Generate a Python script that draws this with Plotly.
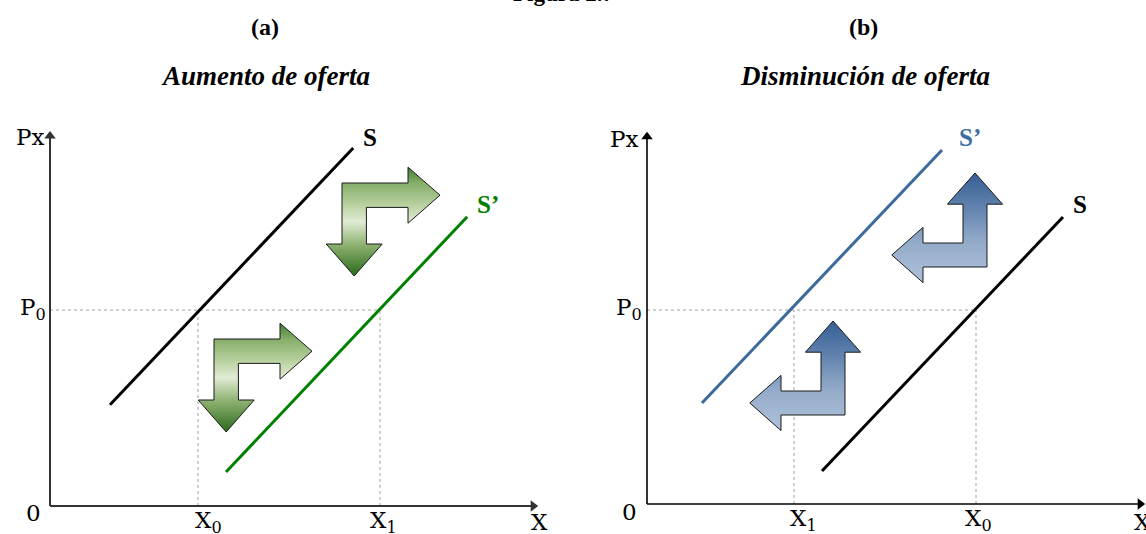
import plotly.graph_objects as go

# ---------------- data (units: 1 unit = 40 px, origin at axis corner) -------------
# panel (a): aumento de oferta
a_axis_tip = [12.08, 9.25]          # x-axis end, y-axis end
a_X0, a_X1, a_P0 = 3.7, 8.25, 4.9
a_S_x = [1.5, 7.58]
a_S_y = [2.53, 8.95]
a_S2_x = [4.4, 10.43]
a_S2_y = [0.85, 7.23]
a_arrow_x = [7.3, 4.1]              # outer corner of bent arrows
a_arrow_y = [8.075, 4.175]

# panel (b): disminución de oferta
b_axis_tip = [12.33, 9.18]
b_X1, b_X0, b_P0 = 3.675, 8.225, 4.85
b_S2_x = [1.375, 7.375]
b_S2_y = [2.525, 8.85]
b_S_x = [4.375, 10.4]
b_S_y = [0.825, 7.175]
b_arrow_x = [8.5, 4.95]
b_arrow_y = [5.925, 2.225]

SERIF = "Liberation Serif"
LAB = "DejaVu Serif"

fig = go.Figure()


def bent_arrow(ox, oy, hx, vy, Lh, Lv, hl, w, hh):
    uv = [(0, 0), (Lh - hl, 0), (Lh - hl, w / 2 - hh), (Lh, w / 2),
          (Lh - hl, w / 2 + hh), (Lh - hl, w), (w, w), (w, Lv - hl),
          (w / 2 + hh, Lv - hl), (w / 2, Lv), (w / 2 - hh, Lv - hl),
          (0, Lv - hl), (0, 0)]
    xs = [ox + hx * u for u, v in uv]
    ys = [oy + vy * v for u, v in uv]
    return xs, ys


green_scale = [[0, '#2a6a1c'], [0.28, '#8cb06e'], [0.5, '#e1ebd5'],
               [0.64, '#bcd3a3'], [0.86, '#83ad67'], [1, '#3f7f30']]
blue_scale = [[0, '#afc1da'], [0.37, '#93abc9'], [0.72, '#5c7eab'], [1, '#355f94']]

# ---------- panel (a) ----------
xa, ya = 'x', 'y'
fig.add_trace(go.Scatter(x=[0, a_X1], y=[a_P0, a_P0], mode='lines',
                         line=dict(color='#a0a0a0', width=1, dash='dot'), xaxis=xa, yaxis=ya))
for xv in (a_X0, a_X1):
    fig.add_trace(go.Scatter(x=[xv, xv], y=[0, a_P0], mode='lines',
                             line=dict(color='#a0a0a0', width=1, dash='dot'), xaxis=xa, yaxis=ya))
fig.add_trace(go.Scatter(x=a_S_x, y=a_S_y, mode='lines', line=dict(color='black', width=3),
                         xaxis=xa, yaxis=ya))
fig.add_trace(go.Scatter(x=a_S2_x, y=a_S2_y, mode='lines', line=dict(color='#008000', width=3),
                         xaxis=xa, yaxis=ya))
for ox, oy in zip(a_arrow_x, a_arrow_y):
    xs, ys = bent_arrow(ox, oy, 1, -1, 2.45, 2.325, 0.8, 0.61, 0.7)
    fig.add_trace(go.Scatter(x=xs, y=ys, mode='lines', fill='toself',
                             fillgradient=dict(type='vertical', colorscale=green_scale),
                             line=dict(color='#1a1a1a', width=1), xaxis=xa, yaxis=ya))

# ---------- panel (b) ----------
xb, yb = 'x2', 'y2'
fig.add_trace(go.Scatter(x=[0, b_X0], y=[b_P0, b_P0], mode='lines',
                         line=dict(color='#a0a0a0', width=1, dash='dot'), xaxis=xb, yaxis=yb))
for xv in (b_X1, b_X0):
    fig.add_trace(go.Scatter(x=[xv, xv], y=[0, b_P0], mode='lines',
                             line=dict(color='#a0a0a0', width=1, dash='dot'), xaxis=xb, yaxis=yb))
fig.add_trace(go.Scatter(x=b_S2_x, y=b_S2_y, mode='lines', line=dict(color='#3b6a9b', width=3),
                         xaxis=xb, yaxis=yb))
fig.add_trace(go.Scatter(x=b_S_x, y=b_S_y, mode='lines', line=dict(color='black', width=3),
                         xaxis=xb, yaxis=yb))
for ox, oy in zip(b_arrow_x, b_arrow_y):
    xs, ys = bent_arrow(ox, oy, -1, 1, 2.38, 2.35, 0.78, 0.6, 0.69)
    fig.add_trace(go.Scatter(x=xs, y=ys, mode='lines', fill='toself',
                             fillgradient=dict(type='vertical', colorscale=blue_scale),
                             line=dict(color='#1a1a1a', width=1), xaxis=xb, yaxis=yb))

# axes drawn as lines ending in arrow markers
for (xr, yr, tip, col, wd) in (('x', 'y', a_axis_tip, '#333333', 2), ('x2', 'y2', b_axis_tip, '#000000', 1.6)):
    fig.add_trace(go.Scatter(x=[0, tip[0]], y=[0, 0], mode='lines', line=dict(color=col, width=wd),
                             xaxis=xr, yaxis=yr))
    fig.add_trace(go.Scatter(x=[0, 0], y=[0, tip[1]], mode='lines', line=dict(color=col, width=wd),
                             xaxis=xr, yaxis=yr))
    fig.add_trace(go.Scatter(x=[tip[0], 0], y=[0, tip[1]], mode='markers',
                             marker=dict(symbol=['triangle-right', 'triangle-up'], size=10,
                                         color=col, line=dict(width=0)),
                             xaxis=xr, yaxis=yr))

ann = []


def lab(text, x, y, xr, yr, size=23, color='black', family=LAB, xanchor='center', yanchor='middle'):
    ann.append(dict(text=text, x=x, y=y, xref=xr, yref=yr, showarrow=False,
                    font=dict(family=family, size=size, color=color),
                    xanchor=xanchor, yanchor=yanchor))


# panel (a) labels
lab('Px', -0.1, 9.225, 'x', 'y', xanchor='right')
lab('P<sub>0</sub>', -0.05, 4.93, 'x', 'y', xanchor='right')
lab('0', -0.425, -0.175, 'x', 'y')
lab('X<sub>0</sub>', 3.95, -0.4, 'x', 'y')
lab('X<sub>1</sub>', 8.33, -0.4, 'x', 'y')
lab('X', 12.225, -0.4, 'x', 'y')
lab('<b>S</b>', 8.0, 9.225, 'x', 'y', size=25, family=SERIF)
lab('<b>S’</b>', 10.95, 7.55, 'x', 'y', size=25, family=SERIF, color='#008000')

# panel (b) labels
lab('Px', -0.175, 9.125, 'x2', 'y2', xanchor='right')
lab('P<sub>0</sub>', -0.075, 4.88, 'x2', 'y2', xanchor='right')
lab('0', -0.45, -0.2, 'x2', 'y2')
lab('X<sub>1</sub>', 3.9, -0.4, 'x2', 'y2')
lab('X<sub>0</sub>', 8.275, -0.4, 'x2', 'y2')
lab('X', 12.375, -0.45, 'x2', 'y2')
lab('<b>S’</b>', 8.075, 9.175, 'x2', 'y2', size=25, family=SERIF, color='#3d6fa3')
lab('<b>S</b>', 10.825, 7.5, 'x2', 'y2', size=25, family=SERIF)

W, H = 1146, 534


def ptxt(text, px, py, size, italic=False):
    ann.append(dict(text=text, x=px / W, y=1 - py / H, xref='paper', yref='paper', showarrow=False,
                    font=dict(family=SERIF, size=size, color='black',
                              style='italic' if italic else 'normal', weight='bold'),
                    xanchor='center', yanchor='middle'))


ptxt('Figura 2.7', 563, -6, 23)
ptxt('(a)', 265, 27, 24)
ptxt('(b)', 863, 27, 24)
ptxt('Aumento de oferta', 265, 76, 27, italic=True)
ptxt('Disminución de oferta', 865, 76, 27, italic=True)

fig.update_layout(
    width=W, height=H, margin=dict(l=0, r=0, t=0, b=0),
    paper_bgcolor='white', plot_bgcolor='white', showlegend=False,
    annotations=ann,
    xaxis=dict(domain=[0, 0.5], range=[-1.25, 13.075], visible=False),
    yaxis=dict(domain=[0, 1], range=[-0.7, 12.65], visible=False),
    xaxis2=dict(domain=[0.5, 1], range=[-1.85, 12.475], visible=False, anchor='y2'),
    yaxis2=dict(domain=[0, 1], range=[-0.75, 12.6], visible=False, anchor='x2'),
)
fig.update_traces(hoverinfo='skip')

fig.write_html("out.html", config={'displayModeBar': False},
               post_script="document.body.style.margin='0px';document.body.style.overflow='hidden';")
